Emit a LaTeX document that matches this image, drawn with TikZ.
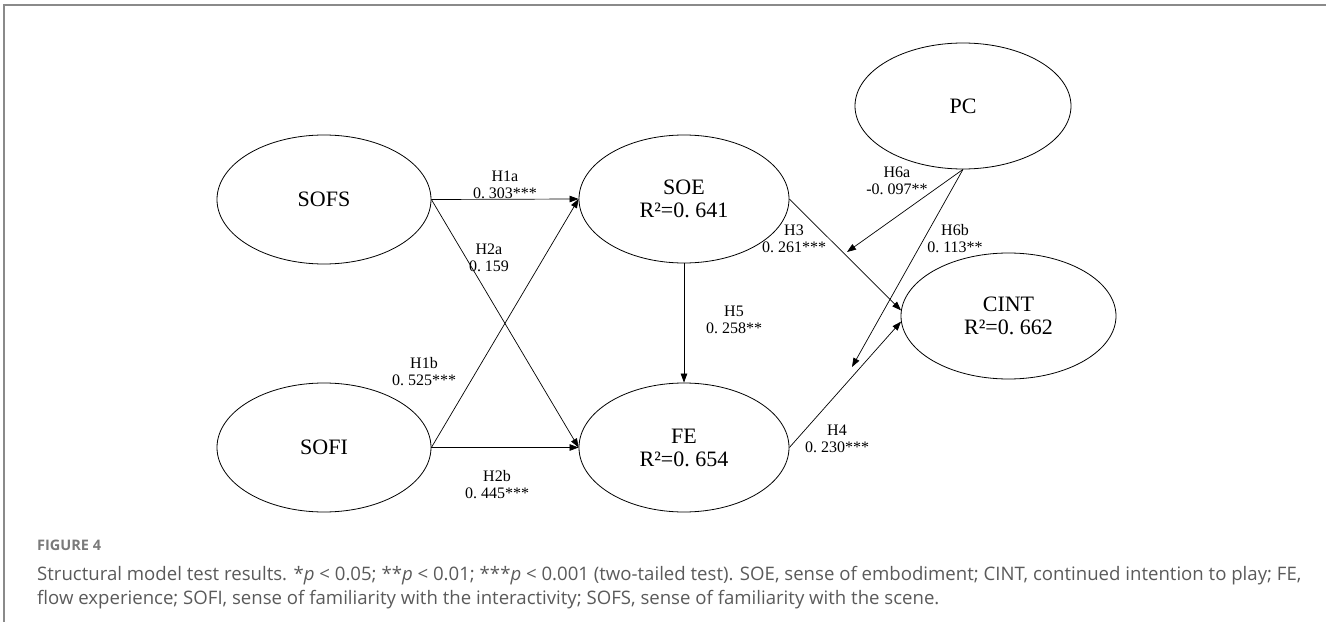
\documentclass[tikz,border=0pt]{standalone}
\usepackage{fontspec}
\setmainfont{Liberation Serif}
\newfontfamily\capfont{Open Sans}
\usetikzlibrary{shapes.geometric,arrows.meta}
\definecolor{framegray}{HTML}{8A8A8A}
\definecolor{figgray}{HTML}{7A7A7A}
\definecolor{capgray}{HTML}{5A5A5A}
\begin{document}
\begin{tikzpicture}[x=1pt,y=-1pt,
  lat/.style={ellipse,draw,line width=0.8pt,minimum width=214pt,minimum height=129pt,inner sep=0pt,align=center,font=\fontsize{22}{23}\selectfont},
  conn/.style={draw,line width=0.7pt,-{Triangle[length=9pt,width=6.5pt]}},
  lbl/.style={align=center,font=\fontsize{16}{17}\selectfont,inner sep=1pt},
  capbody/.style={anchor=west,inner sep=0pt,font=\capfont\fontsize{18.6}{22}\selectfont,text=capgray}
]
\useasboundingbox (0,0) rectangle (1326,626);
% frame
\draw[framegray,line width=2pt] (1326,5.5) -- (4,5.5) -- (4,622);
% latent variables
\node[lat] (sofs) at (324,199.5) {SOFS};
\node[lat] (sofi) at (324,447.5) {SOFI};
\node[lat,minimum width=210pt,minimum height=128pt] (soe) at (684,199) {SOE\\R²=0.\ 641};
\node[lat,minimum width=210pt] (fe) at (684,447.5) {FE\\R²=0.\ 654};
\node[lat,minimum width=216pt,minimum height=126pt] (pc) at (963,106) {PC};
\node[lat,minimum width=215pt,minimum height=126pt] (cint) at (1008.5,316) {CINT\\R²=0.\ 662};
% paths
\draw[conn] (sofs.east) -- (soe.west);
\draw[conn] (sofs.east) -- (fe.west);
\draw[conn] (sofi.east) -- (soe.west);
\draw[conn] (sofi.east) -- (fe.west);
\draw[conn] (soe.south) -- (fe.north);
\draw[conn] (soe.east) -- (cint.177);
\draw[conn] (fe.east) -- (cint.183);
\coordinate (t1) at (847,252);
\coordinate (t2) at (852,367);
\draw[conn] (pc.south) -- (t1);
\draw[conn] (pc.south) -- (t2);
% labels
\node[lbl] (l1a) at (505,185) {H1a\\0.\ 303***};
\node[lbl] (l2a) at (489,257.5) {H2a\\0.\ 159};
\node[lbl] (l1b) at (424,372) {H1b\\0.\ 525***};
\node[lbl] (l2b) at (497,485) {H2b\\0.\ 445***};
\node[lbl] (l5) at (734,319.5) {H5\\0.\ 258**};
\node[lbl] (l3) at (794,238.5) {H3\\0.\ 261***};
\node[lbl] (l6a) at (897,181) {H6a\\-0.\ 097**};
\node[lbl] (l6b) at (955,239) {H6b\\0.\ 113**};
\node[lbl] (l4) at (837,439) {H4\\0.\ 230***};
% caption
\node[anchor=west,inner sep=0pt,font=\capfont\bfseries\fontsize{14.5}{17}\selectfont,text=figgray] (fig) at (37,545) {FIGURE 4};
\node[capbody] (cap1) at (37,576) {Structural model test results. *\textit{p} < 0.05; **\textit{p} < 0.01; ***\textit{p} < 0.001 (two-tailed test). SOE, sense of embodiment; CINT, continued intention to play; FE,};
\node[capbody] (cap2) at (37,600) {flow experience; SOFI, sense of familiarity with the interactivity; SOFS, sense of familiarity with the scene.};
\end{tikzpicture}
\end{document}
